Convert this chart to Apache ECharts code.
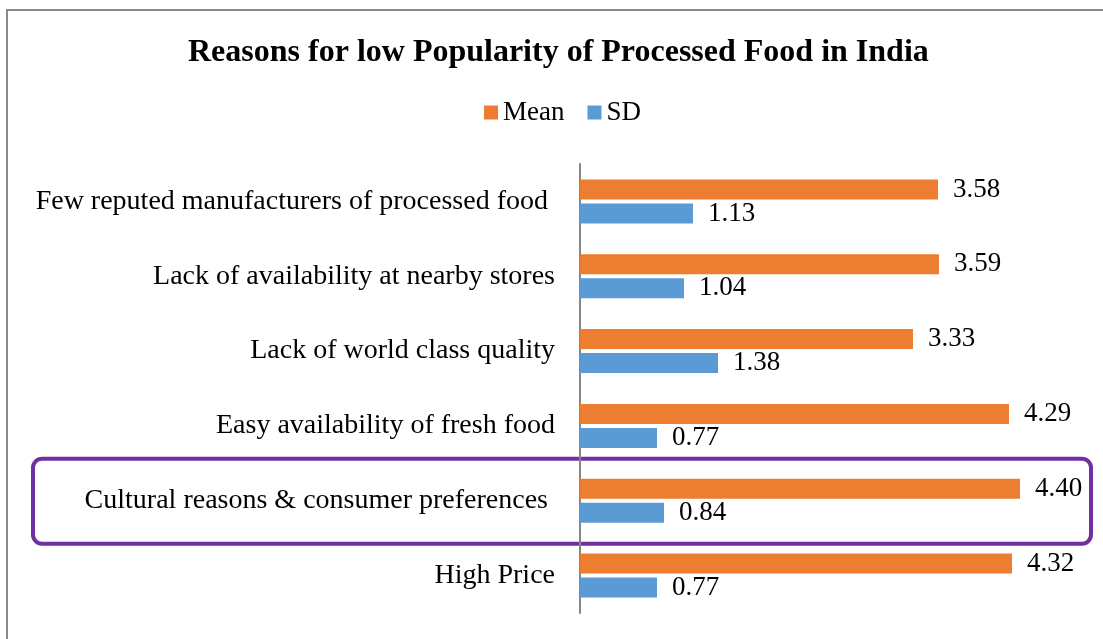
<!DOCTYPE html>
<html>
<head>
<meta charset="utf-8">
<script src="https://cdn.jsdelivr.net/npm/echarts@6/dist/echarts.min.js"></script>
<style>
  html, body { margin: 0; padding: 0; background: #fff; }
  #chart { width: 1103px; height: 639px; }
</style>
</head>
<body>
<div id="chart"></div>
<script>
// Categories listed top to bottom
const categories = [
  'Few reputed manufacturers of processed food ',
  'Lack of availability at nearby stores',
  'Lack of world class quality',
  'Easy availability of fresh food',
  'Cultural reasons & consumer preferences ',
  'High Price'
];
const meanValues = [3.58, 3.59, 3.33, 4.29, 4.40, 4.32];
const sdValues = [1.13, 1.04, 1.38, 0.77, 0.84, 0.77];
const highlightedIndex = 4;

const FONT = '"Liberation Serif", "Times New Roman", serif';

const chart = echarts.init(document.getElementById('chart'), null, { renderer: 'canvas' });

const valueLabel = {
  show: true,
  position: 'right',
  distance: 15,
  fontFamily: FONT,
  fontSize: 27,
  color: '#000',
  formatter: p => p.value.toFixed(2)
};

const option = {
  backgroundColor: '#fff',
  animation: false,
  title: {
    text: 'Reasons for low Popularity of Processed Food in India',
    left: 183,
    top: 32,
    textStyle: { fontFamily: FONT, fontSize: 32, fontWeight: 'bold', color: '#000' }
  },
  legend: {
    top: 94,
    left: 479,
    itemWidth: 14,
    itemHeight: 14,
    itemGap: 23,
    icon: 'rect',
    textStyle: { fontFamily: FONT, fontSize: 27, color: '#000' },
    data: ['Mean', 'SD']
  },
  grid: { left: 580, right: 23, top: 164, bottom: 26, containLabel: false },
  xAxis: {
    type: 'value',
    min: 0,
    max: 5,
    show: false
  },
  yAxis: {
    type: 'category',
    inverse: true,
    data: categories,
    axisLine: { show: true, lineStyle: { color: '#868686', width: 2 } },
    axisTick: { show: false },
    axisLabel: { fontFamily: FONT, fontSize: 28, color: '#000', margin: 25 }
  },
  series: [
    {
      name: 'Mean',
      type: 'bar',
      data: meanValues,
      barWidth: 20,
      barGap: '20%',
      itemStyle: { color: '#ED7D31' },
      label: valueLabel
    },
    {
      name: 'SD',
      type: 'bar',
      data: sdValues,
      barWidth: 20,
      barGap: '20%',
      itemStyle: { color: '#5B9BD5' },
      label: valueLabel
    }
  ]
};

chart.setOption(option);

// Outer frame and highlight box around the marked category row
function drawOverlays() {
  const yc = chart.convertToPixel({ yAxisIndex: 0 }, highlightedIndex);
  chart.setOption({
    graphic: [
      {
        type: 'rect',
        shape: { x: 7, y: 10, width: 1120, height: 660 },
        style: { fill: null, stroke: '#8c8c8c', lineWidth: 2 },
        silent: true
      },
      {
        type: 'rect',
        shape: { x: 33, y: yc - 42, width: 1058, height: 85, r: 9 },
        style: { fill: null, stroke: '#7030A0', lineWidth: 4 },
        silent: true
      }
    ]
  });
}
drawOverlays();
</script>
</body>
</html>
